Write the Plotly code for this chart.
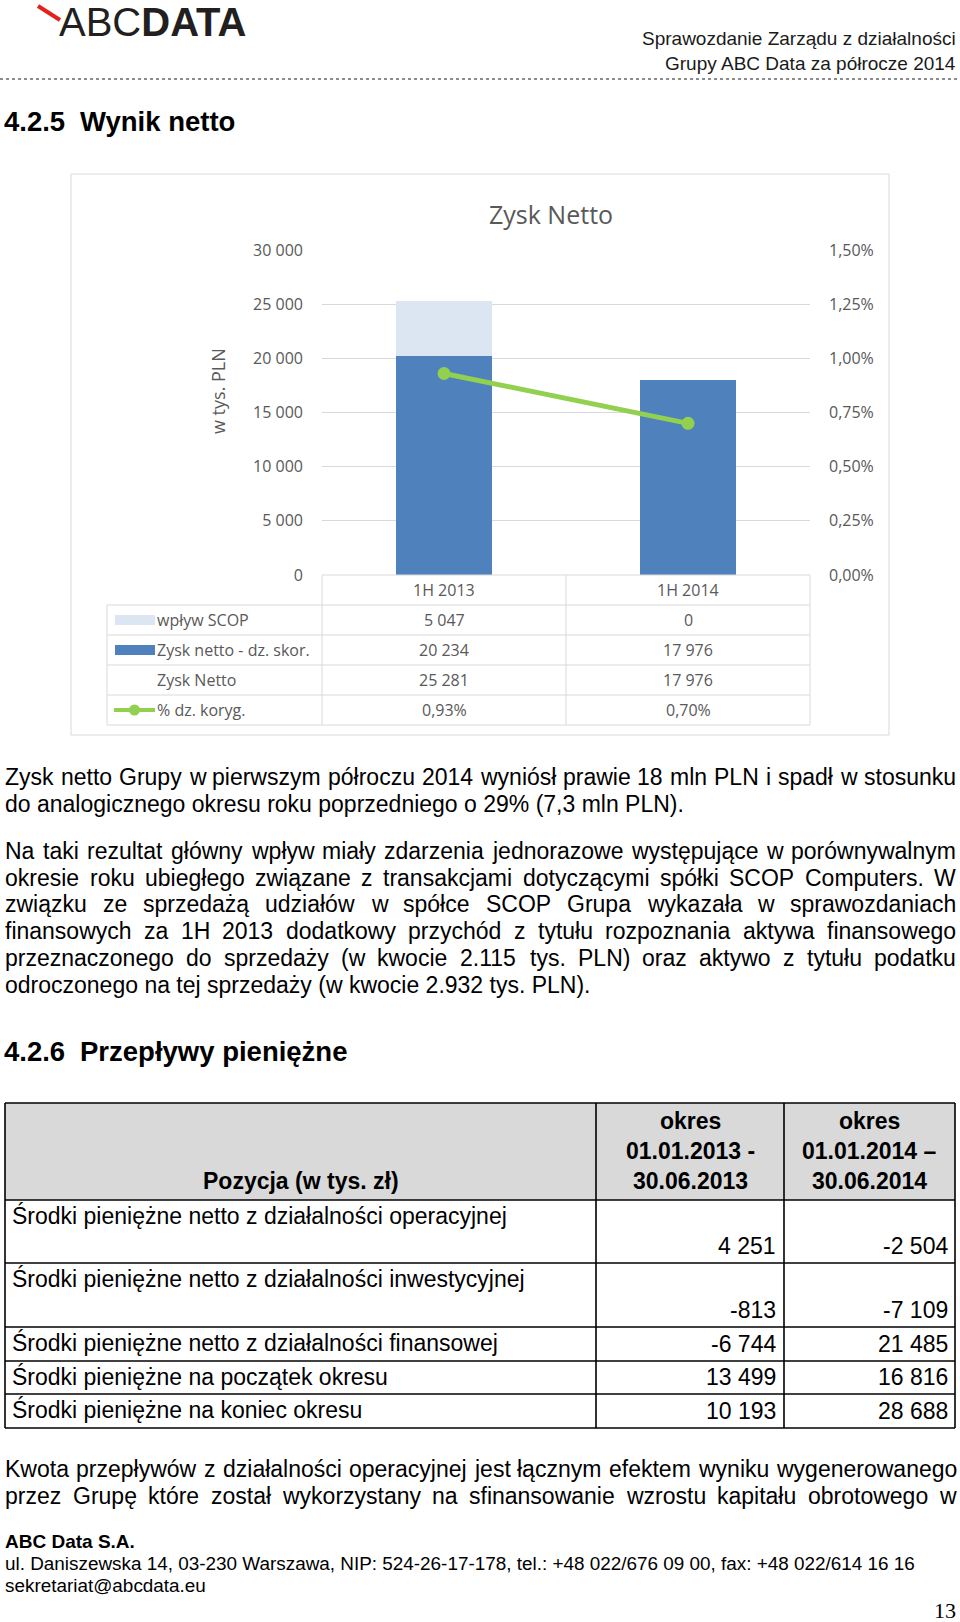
import plotly.graph_objects as go

W, H = 960, 1622

# ---------------- chart data ----------------
categories = ["1H 2013", "1H 2014"]
wplyw_scop = [5047, 0]
zysk_dz_skor = [20234, 17976]
zysk_netto = [25281, 17976]
proc_dz_koryg = [0.0093, 0.0070]
series_names = ["wpływ SCOP", "Zysk netto - dz. skor.", "Zysk Netto", "% dz. koryg."]
y_ticks = [0, 5000, 10000, 15000, 20000, 25000, 30000]
y2_ticks = [0, 0.0025, 0.005, 0.0075, 0.01, 0.0125, 0.015]
chart_title = "Zysk Netto"
y_title = "w tys. PLN"

# ---------------- cash flow table ----------------
cf_head_label = "Pozycja (w tys. zł)"
cf_head_periods = [["okres", "01.01.2013 -", "30.06.2013"],
                   ["okres", "01.01.2014 –", "30.06.2014"]]
cf_labels = ["Środki pieniężne netto z działalności operacyjnej",
             "Środki pieniężne netto z działalności inwestycyjnej",
             "Środki pieniężne netto z działalności finansowej",
             "Środki pieniężne na początek okresu",
             "Środki pieniężne na koniec okresu"]
cf_2013 = [4251, -813, -6744, 13499, 10193]
cf_2014 = [-2504, -7109, 21485, 16816, 28688]

# ---------------- page text ----------------
header_lines = ["Sprawozdanie Zarządu z działalności", "Grupy ABC Data za półrocze 2014"]
heading1 = ("4.2.5", "Wynik netto")
heading2 = ("4.2.6", "Przepływy pieniężne")
para1 = ["Zysk netto Grupy w pierwszym półroczu 2014 wyniósł prawie 18 mln PLN i spadł w stosunku",
         "do analogicznego okresu roku poprzedniego o 29% (7,3 mln PLN)."]
para2 = ["Na taki rezultat główny wpływ miały zdarzenia jednorazowe występujące w porównywalnym",
         "okresie roku ubiegłego związane z transakcjami dotyczącymi spółki SCOP Computers. W",
         "związku ze sprzedażą udziałów w spółce SCOP Grupa wykazała w sprawozdaniach",
         "finansowych za 1H 2013 dodatkowy przychód z tytułu rozpoznania aktywa finansowego",
         "przeznaczonego do sprzedaży (w kwocie 2.115 tys. PLN) oraz aktywo z tytułu podatku",
         "odroczonego na tej sprzedaży (w kwocie 2.932 tys. PLN)."]
para3 = ["Kwota przepływów z działalności operacyjnej jest łącznym efektem wyniku wygenerowanego",
         "przez Grupę które został wykorzystany na sfinansowanie wzrostu kapitału obrotowego w"]
footer_company = "ABC Data S.A."
footer_lines = ["ul. Daniszewska 14, 03-230 Warszawa, NIP: 524-26-17-178, tel.: +48 022/676 09 00, fax: +48 022/614 16 16",
                "sekretariat@abcdata.eu"]
page_no = "13"

# ---------------- helpers ----------------
ARIAL = {' ': 278, '!': 278, '"': 355, '#': 556, '$': 556, '%': 889, '&': 667, "'": 191, '(': 333, ')': 333,
         '*': 389, '+': 584, ',': 278, '-': 333, '.': 278, '/': 278, ':': 278, ';': 278, '?': 556, '@': 1015,
         'A': 667, 'B': 667, 'C': 722, 'D': 722, 'E': 667, 'F': 611, 'G': 778, 'H': 722, 'I': 278, 'J': 500,
         'K': 667, 'L': 556, 'M': 833, 'N': 722, 'O': 778, 'P': 667, 'Q': 778, 'R': 722, 'S': 667, 'T': 611,
         'U': 722, 'V': 667, 'W': 944, 'X': 667, 'Y': 667, 'Z': 611,
         'a': 556, 'b': 556, 'c': 500, 'd': 556, 'e': 556, 'f': 278, 'g': 556, 'h': 556, 'i': 222, 'j': 222,
         'k': 500, 'l': 222, 'm': 833, 'n': 556, 'o': 556, 'p': 556, 'q': 556, 'r': 333, 's': 500, 't': 278,
         'u': 556, 'v': 500, 'w': 722, 'x': 500, 'y': 500, 'z': 500,
         'ą': 556, 'ć': 500, 'ę': 556, 'ł': 222, 'ń': 556, 'ó': 556, 'ś': 500, 'ź': 500, 'ż': 500,
         'Ś': 667, 'Ł': 556, 'Ż': 611, '–': 556}
for d in "0123456789":
    ARIAL[d] = 556

TXT_FONT = "Liberation Sans, Arial, sans-serif"
CH_FONT = "Open Sans, sans-serif"
GREY = "#595959"


def tw(s, size):
    return sum(ARIAL.get(c, 556) for c in s) * size / 1000.0


def X(px):
    return px / W


def Y(py):
    return 1 - py / H


def fmt_int(v):
    s = f"{abs(v):,}".replace(",", " ")
    return ("-" if v < 0 else "") + s


def fmt_pct(v):
    return f"{v * 100:.2f}".replace(".", ",") + "%"


annotations = []
shapes = []


def text(t, x, y, size, anchor="left", bold=False, color="#000000", family=TXT_FONT, xref="paper", angle=0,
         vanchor="middle"):
    annotations.append(dict(
        text=f"<b>{t}</b>" if bold else t,
        x=x if xref != "paper" else X(x), y=Y(y), xref=xref, yref="paper",
        xanchor=anchor, yanchor=vanchor, showarrow=False, borderpad=0, borderwidth=0,
        textangle=angle, font=dict(family=family, size=size, color=color)))


def line_text(t, y, size, justify, x0=5, x1=956):
    if not justify:
        text(t, x0, y, size)
        return
    words = t.split(" ")
    widths = [tw(w, size) for w in words]
    gap = (x1 - x0 - sum(widths)) / (len(words) - 1)
    x = x0
    for w, wd in zip(words, widths):
        text(w, x, y, size)
        x += wd + gap


def hline(x0, x1, y, color, width=1, dash="solid"):
    shapes.append(dict(type="line", xref="paper", yref="paper", x0=X(x0), x1=X(x1), y0=Y(y), y1=Y(y),
                       line=dict(color=color, width=width, dash=dash)))


def vline(x, y0, y1, color, width=1):
    shapes.append(dict(type="line", xref="paper", yref="paper", x0=X(x), x1=X(x), y0=Y(y0), y1=Y(y1),
                       line=dict(color=color, width=width)))


def rect(x0, y0, x1, y1, fill=None, color=None, width=1, layer="above"):
    shapes.append(dict(type="rect", xref="paper", yref="paper", x0=X(x0), x1=X(x1), y0=Y(y0), y1=Y(y1),
                       fillcolor=fill if fill else "rgba(0,0,0,0)",
                       line=dict(color=color if color else "rgba(0,0,0,0)", width=width if color else 0),
                       layer=layer))


# ---------------- page header ----------------
shapes.append(dict(type="line", xref="paper", yref="paper", x0=X(38), y0=Y(6), x1=X(60), y1=Y(20),
                   line=dict(color="#e2231a", width=4)))
text("ABC<b>DATA</b>", 59, 0.5, 40, color="#231f20", vanchor="top")
text(header_lines[0], 956, 38, 19, anchor="right", color="#1a1a1a")
text(header_lines[1], 956, 63, 19, anchor="right", color="#1a1a1a")
hline(0, 960, 79, "#8c8c8c", width=2, dash="dot")

text(heading1[0], 4, 122, 27.5, bold=True)
text(heading1[1], 80, 122, 27.5, bold=True)

# ---------------- chart frame ----------------
PL, PR, PT, PB = 322, 810, 250, 575
rect(71, 174, 889, 735, color="#d9d9d9", width=1, layer="below")
text(chart_title, 551, 214, 25, anchor="center", color=GREY, family=CH_FONT)
text(y_title, 218, 391, 18, anchor="center", color=GREY, family=CH_FONT, angle=-90)

# data table under the chart
ROW = 30
TL = 107
n_rows = 4
hline(PL, PR, PB, "#d9d9d9")
for i in range(n_rows + 1):
    hline(TL, PR, PB + ROW * (i + 1), "#d9d9d9")
vline(TL, PB + ROW, PB + ROW * (n_rows + 1), "#d9d9d9")
for xx in (PL, (PL + PR) / 2, PR):
    vline(xx, PB, PB + ROW * (n_rows + 1), "#d9d9d9")

for c in categories:
    text(c, c, PB + ROW / 2, 16, anchor="center", color=GREY, family=CH_FONT, xref="x")
row_values = [[fmt_int(v) for v in wplyw_scop],
              [fmt_int(v) for v in zysk_dz_skor],
              [fmt_int(v) for v in zysk_netto],
              [fmt_pct(v) for v in proc_dz_koryg]]
for r, (name, vals) in enumerate(zip(series_names, row_values)):
    yc = PB + ROW * (r + 1) + ROW / 2
    text(name, 157, yc, 16, color=GREY, family=CH_FONT)
    for c, v in zip(categories, vals):
        text(v, c, yc, 16, anchor="center", color=GREY, family=CH_FONT, xref="x")
# legend keys
rect(115, PB + ROW * 1.5 - 5, 155, PB + ROW * 1.5 + 5, fill="#dce6f2")
rect(115, PB + ROW * 2.5 - 5, 155, PB + ROW * 2.5 + 5, fill="#4f81bd")
ky = PB + ROW * 4.5
shapes.append(dict(type="line", xref="paper", yref="paper", x0=X(114), x1=X(155), y0=Y(ky), y1=Y(ky),
                   line=dict(color="#92d050", width=4)))
shapes.append(dict(type="circle", xref="paper", yref="paper", x0=X(129), x1=X(140), y0=Y(ky - 5.5), y1=Y(ky + 5.5),
                   fillcolor="#92d050", line=dict(width=0)))

# ---------------- paragraphs ----------------
PS = 23
for i, ln in enumerate(para1):
    line_text(ln, 777 + i * 26.5, PS, justify=(i < len(para1) - 1))
for i, ln in enumerate(para2):
    line_text(ln, 851 + i * 26.7, PS, justify=(i < len(para2) - 1))

text(heading2[0], 4, 1051, 27.5, bold=True)
text(heading2[1], 80, 1051, 27.5, bold=True)

# ---------------- cash flow table ----------------
TS = 23
T_L, T_C1, T_C2, T_R = 5, 596, 784, 955
T_TOP, T_HEAD = 1103, 1200
row_heights = [63, 64, 34, 33, 34]
rect(T_L, T_TOP, T_R, T_HEAD, fill="#d9d9d9", layer="below")
text(cf_head_label, (T_L + T_C1) / 2, 1181, TS, anchor="center", bold=True)
for (x0, x1), lines in zip(((T_C1, T_C2), (T_C2, T_R)), cf_head_periods):
    for j, ln in enumerate(lines):
        text(ln, (x0 + x1) / 2, 1121 + 30 * j, TS, anchor="center", bold=True)

edges = [T_TOP, T_HEAD]
for h in row_heights:
    edges.append(edges[-1] + h)
for e in edges:
    hline(T_L, T_R, e, "#000000", width=1.6)
for xx in (T_L, T_C1, T_C2, T_R):
    vline(xx, T_TOP, edges[-1], "#000000", width=1.6)

for r, (lab, v1, v2) in enumerate(zip(cf_labels, cf_2013, cf_2014)):
    top, bot = edges[r + 1], edges[r + 2]
    text(lab, 12, top + 15, TS)
    yv = bot - 17
    text(fmt_int(v1), T_C2 - 8, yv, TS, anchor="right")
    text(fmt_int(v2), T_R - 7, yv, TS, anchor="right")

for i, ln in enumerate(para3):
    line_text(ln, 1469 + i * 27, PS, justify=True)

# ---------------- footer ----------------
text(footer_company, 5, 1541, 19, bold=True)
text(footer_lines[0], 5, 1563, 18.9)
text(footer_lines[1], 5, 1585, 18.9)
text(page_no, 956, 1610, 22, anchor="right", family="Liberation Serif, Times New Roman, serif")

# ---------------- figure ----------------
fig = go.Figure()
fig.add_bar(x=categories, y=zysk_dz_skor, name=series_names[1], marker=dict(color="#4f81bd", line=dict(width=0)))
fig.add_bar(x=categories, y=wplyw_scop, name=series_names[0], marker=dict(color="#dce6f2", line=dict(width=0)))
fig.add_scatter(x=categories, y=proc_dz_koryg, yaxis="y2", name=series_names[3], mode="lines+markers",
                line=dict(color="#92d050", width=5), marker=dict(size=13, color="#92d050"))

tickfont = dict(family=CH_FONT, size=16, color=GREY)
fig.update_layout(
    width=W, height=H, margin=dict(l=0, r=0, t=0, b=0, pad=0, autoexpand=False),
    paper_bgcolor="white", plot_bgcolor="rgba(0,0,0,0)",
    showlegend=False, barmode="stack", bargap=0.607, separators=", ",
    xaxis=dict(domain=[X(PL), X(PR)], range=[-0.5, 1.5], showticklabels=False, showgrid=False,
               zeroline=False, showline=False, type="category", automargin=False),
    yaxis=dict(domain=[Y(PB), Y(PT)], range=[0, 30000], tickvals=y_ticks, tickformat=",d",
               gridcolor="#d9d9d9", gridwidth=1, zeroline=False, showline=False, ticks="",
               ticklabelstandoff=18, tickfont=tickfont, automargin=False),
    yaxis2=dict(overlaying="y", side="right", anchor="x", range=[0, 0.015], tickvals=y2_ticks,
                tickformat=".2%", showgrid=False, zeroline=False, showline=False, ticks="",
                ticklabelstandoff=18, tickfont=tickfont, automargin=False),
    annotations=annotations, shapes=shapes,
)

fig.write_html(
    "out.html",
    config={"displayModeBar": False},
    post_script="document.body.style.margin='0';document.body.style.padding='0';"
                "document.body.style.overflow='hidden';"
                "document.documentElement.style.overflow='hidden';",
)
